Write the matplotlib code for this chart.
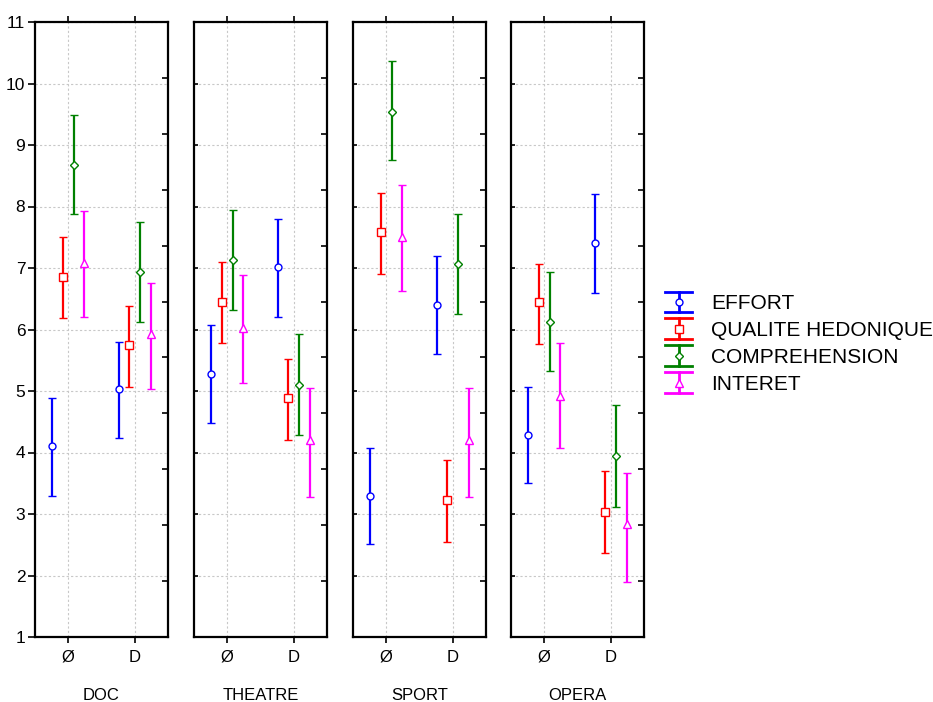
import numpy as np
import matplotlib.pyplot as plt
from matplotlib.legend_handler import HandlerBase
from matplotlib.lines import Line2D

plt.rcParams['font.family'] = ['Liberation Sans', 'DejaVu Sans']

# Données (moyenne, borne basse, borne haute)
panels = ['DOC', 'THEATRE', 'SPORT', 'OPERA']
conditions = ['Ø', 'D']
series = ['EFFORT', 'QUALITE HEDONIQUE', 'COMPREHENSION', 'INTERET']

effort_mean = [[4.10, 5.03], [5.28, 7.01], [3.30, 6.40], [4.28, 7.40]]
effort_lo = [[3.30, 4.23], [4.48, 6.20], [2.52, 5.60], [3.50, 6.60]]
effort_hi = [[4.88, 5.80], [6.08, 7.80], [4.08, 7.20], [5.07, 8.20]]

qh_mean = [[6.85, 5.75], [6.45, 4.88], [7.58, 3.23], [6.45, 3.03]]
qh_lo = [[6.18, 5.07], [5.78, 4.20], [6.90, 2.55], [5.77, 2.37]]
qh_hi = [[7.50, 6.38], [7.10, 5.52], [8.22, 3.88], [7.07, 3.70]]

comp_mean = [[8.68, 6.93], [7.13, 5.10], [9.53, 7.07], [6.13, 3.95]]
comp_lo = [[7.87, 6.12], [6.32, 4.28], [8.75, 6.25], [5.32, 3.12]]
comp_hi = [[9.48, 7.74], [7.95, 5.93], [10.36, 7.88], [6.93, 4.77]]

int_mean = [[7.08, 5.92], [6.03, 4.20], [7.50, 4.20], [4.92, 2.83]]
int_lo = [[6.20, 5.03], [5.13, 3.28], [6.62, 3.28], [4.07, 1.90]]
int_hi = [[7.93, 6.76], [6.88, 5.05], [8.35, 5.05], [5.78, 3.67]]

means = [effort_mean, qh_mean, comp_mean, int_mean]
lows = [effort_lo, qh_lo, comp_lo, int_lo]
highs = [effort_hi, qh_hi, comp_hi, int_hi]

colors = ['#0000ff', '#ff0000', '#008000', '#ff00ff']
markers = ['o', 's', 'D', '^']
msizes = [5, 6, 4.5, 6]
offsets = [-0.24, -0.08, 0.08, 0.24]


# symbole de légende façon "barre d'erreur" (traits larges haut et bas)
class HandlerBarre(HandlerBase):
    def __init__(self, color, marker, ms):
        super().__init__()
        self.color, self.marker, self.ms = color, marker, ms

    def create_artists(self, legend, orig_handle, xd, yd, width, height,
                       fontsize, trans):
        yc = -yd + height / 2
        demi = 7.4  # en points
        y0, y1 = yc - demi, yc + demi
        xm = -xd + width / 2
        xs = [-xd, -xd + width]
        top = Line2D(xs, [y1, y1], color=self.color, lw=2)
        bas = Line2D(xs, [y0, y0], color=self.color, lw=2)
        vert = Line2D([xm, xm], [y0, y1], color=self.color, lw=2)
        mk = Line2D([xm], [yc], marker=self.marker, ms=self.ms,
                    color=self.color, mfc='white', mec=self.color, mew=1)
        arts = [top, bas, vert, mk]
        for a in arts:
            a.set_transform(trans)
        return arts


fig = plt.figure(figsize=(9.33, 7.02), dpi=100)
W, H = 933, 702
lefts = [35, 194, 353, 511]
pw = 133
top, bot = 22, 637

handles = []
for p, name in enumerate(panels):
    ax = fig.add_axes([lefts[p] / W, (H - bot) / H, pw / W, (bot - top) / H])
    x = np.arange(len(conditions))
    for s in range(len(series)):
        m = np.array(means[s][p])
        lo = m - np.array(lows[s][p])
        hi = np.array(highs[s][p]) - m
        h = ax.errorbar(x + offsets[s], m, yerr=[lo, hi], fmt=markers[s],
                        color=colors[s], ecolor=colors[s], elinewidth=1.6,
                        capsize=3.2, capthick=1.6, markersize=msizes[s],
                        markerfacecolor='white', markeredgecolor=colors[s],
                        markeredgewidth=1, label=series[s])
        if p == 0:
            handles.append(h)
    ax.set_xlim(-0.5, 1.5)
    ax.set_ylim(1, 11)
    ax.set_xticks(x)
    ax.set_yticks(np.arange(1, 12))
    ax.grid(True, color='#c8c8c8', linestyle=(0, (2, 2)), linewidth=0.8)
    ax.set_axisbelow(True)
    for sp in ax.spines.values():
        sp.set_linewidth(1.6)

    # graduations du côté droit
    ax2 = ax.twinx()
    ax2.set_ylim(1, 11)
    ax2.set_yticks(1 + np.arange(1, 11) * 10 / 11)
    ax2.tick_params(axis='y', direction='in', length=4, width=1.2,
                    labelright=False)
    for sp in ax2.spines.values():
        sp.set_visible(False)

    ax.set_xticklabels(conditions, fontsize=12)
    ax.tick_params(axis='x', direction='out', length=4, width=1.2, pad=5,
                   top=True)
    if p == 0:
        ax.tick_params(axis='y', left=True, right=False, direction='out',
                       length=5, width=1.2, labelsize=12.5, labelleft=True,
                       pad=2)
    else:
        ax.tick_params(axis='y', left=True, right=False, direction='in',
                       length=3, width=1.2, labelleft=False)
    ax.set_xlabel(name, fontsize=12, labelpad=17)

hmap = {h: HandlerBarre(colors[i], markers[i], msizes[i])
        for i, h in enumerate(handles)}
fig.legend(handles, series, loc='center left', bbox_to_anchor=(665 / W, 1 - 344 / H),
           frameon=False, fontsize=15, handlelength=1.3, handletextpad=0.9,
           labelspacing=0.38, borderpad=0, borderaxespad=0, handler_map=hmap)

fig.savefig('out.png', dpi=100)
